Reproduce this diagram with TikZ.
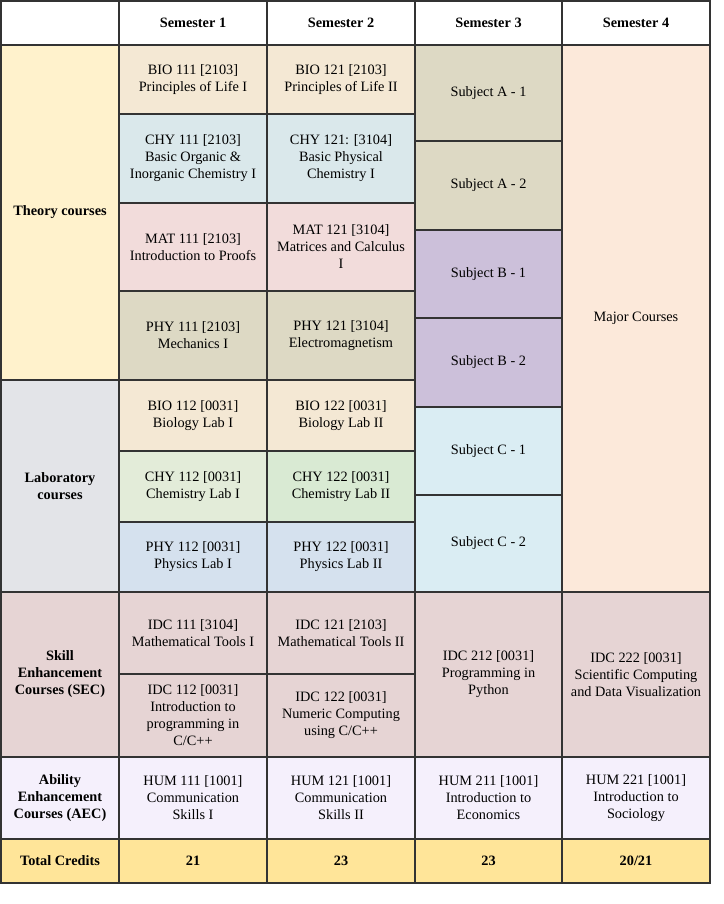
\documentclass[tikz,border=0pt]{standalone}
\usepackage{fontspec}
\setmainfont{Liberation Serif}
\definecolor{linec}{HTML}{333333}
\definecolor{theoryc}{HTML}{FFF2CC}
\definecolor{labc}{HTML}{E3E4E8}
\definecolor{bioc}{HTML}{F4E8D4}
\definecolor{chyc}{HTML}{DAE8EB}
\definecolor{matc}{HTML}{F2DCDB}
\definecolor{phyc}{HTML}{DDD9C4}
\definecolor{chylabAc}{HTML}{E3ECD9}
\definecolor{chylabBc}{HTML}{D9EAD3}
\definecolor{phylabc}{HTML}{D5E1EE}
\definecolor{subBc}{HTML}{CCC0DA}
\definecolor{subCc}{HTML}{DAEDF3}
\definecolor{majorc}{HTML}{FCE9DA}
\definecolor{secc}{HTML}{E6D4D4}
\definecolor{aecc}{HTML}{F5F0FC}
\definecolor{totalc}{HTML}{FFE599}
\tikzset{
  cellsty/.style={draw=linec, line width=2pt, inner sep=0pt, outer sep=0pt,
    align=center, anchor=north west, font=\fontsize{14.3}{17}\selectfont},
  headsty/.style={cellsty, font=\fontsize{14.3}{17}\selectfont\bfseries}
}
\newcommand{\cellbox}[8][cellsty]{%
  \node[#1, fill=#7, minimum width={(#5-#3)*1pt}, minimum height={(#6-#4)*1pt}]
    (#2) at (#3,#4) {#8};}
\begin{document}
\begin{tikzpicture}[x=1pt,y=-1pt]
\useasboundingbox (0,0) rectangle (723,904);
% header row
\cellbox[headsty]{h0}{1}{1}{119}{45}{white}{}
\cellbox[headsty]{h1}{119}{1}{267}{45}{white}{Semester 1}
\cellbox[headsty]{h2}{267}{1}{415}{45}{white}{Semester 2}
\cellbox[headsty]{h3}{415}{1}{562}{45}{white}{Semester 3}
\cellbox[headsty]{h4}{562}{1}{710}{45}{white}{Semester 4}
% row labels
\cellbox[headsty]{theory}{1}{45}{119}{380}{theoryc}{Theory courses}
\cellbox[headsty]{lab}{1}{380}{119}{592}{labc}{Laboratory\\courses}
\cellbox[headsty]{sec}{1}{592}{119}{757}{secc}{Skill\\Enhancement\\Courses (SEC)}
\cellbox[headsty]{aec}{1}{757}{119}{839}{aecc}{Ability\\Enhancement\\Courses (AEC)}
\cellbox[headsty]{total}{1}{839}{119}{883}{totalc}{Total Credits}
% semester 1
\cellbox{bio111}{119}{45}{267}{114}{bioc}{BIO 111 [2103]\\Principles of Life I}
\cellbox{chy111}{119}{114}{267}{203}{chyc}{CHY 111 [2103]\\Basic Organic \&\\Inorganic Chemistry I}
\cellbox{mat111}{119}{203}{267}{291}{matc}{MAT 111 [2103]\\Introduction to Proofs}
\cellbox{phy111}{119}{291}{267}{380}{phyc}{PHY 111 [2103]\\Mechanics I}
\cellbox{bio112}{119}{380}{267}{451}{bioc}{BIO 112 [0031]\\Biology Lab I}
\cellbox{chy112}{119}{451}{267}{522}{chylabAc}{CHY 112 [0031]\\Chemistry Lab I}
\cellbox{phy112}{119}{522}{267}{592}{phylabc}{PHY 112 [0031]\\Physics Lab I}
\cellbox{idc111}{119}{592}{267}{674}{secc}{IDC 111 [3104]\\Mathematical Tools I}
\cellbox{idc112}{119}{674}{267}{757}{secc}{IDC 112 [0031]\\Introduction to\\programming in\\C/C++}
\cellbox{hum111}{119}{757}{267}{839}{aecc}{HUM 111 [1001]\\Communication\\Skills I}
\cellbox[headsty]{t1}{119}{839}{267}{883}{totalc}{21}
% semester 2
\cellbox{bio121}{267}{45}{415}{114}{bioc}{BIO 121 [2103]\\Principles of Life II}
\cellbox{chy121}{267}{114}{415}{203}{chyc}{CHY 121: [3104]\\Basic Physical\\Chemistry I}
\cellbox{mat121}{267}{203}{415}{291}{matc}{MAT 121 [3104]\\Matrices and Calculus\\I}
\cellbox{phy121}{267}{291}{415}{380}{phyc}{PHY 121 [3104]\\Electromagnetism}
\cellbox{bio122}{267}{380}{415}{451}{bioc}{BIO 122 [0031]\\Biology Lab II}
\cellbox{chy122}{267}{451}{415}{522}{chylabBc}{CHY 122 [0031]\\Chemistry Lab II}
\cellbox{phy122}{267}{522}{415}{592}{phylabc}{PHY 122 [0031]\\Physics Lab II}
\cellbox{idc121}{267}{592}{415}{674}{secc}{IDC 121 [2103]\\Mathematical Tools II}
\cellbox{idc122}{267}{674}{415}{757}{secc}{IDC 122 [0031]\\Numeric Computing\\using C/C++}
\cellbox{hum121}{267}{757}{415}{839}{aecc}{HUM 121 [1001]\\Communication\\Skills II}
\cellbox[headsty]{t2}{267}{839}{415}{883}{totalc}{23}
% semester 3
\cellbox{subA1}{415}{45}{562}{141}{phyc}{Subject A - 1}
\cellbox{subA2}{415}{141}{562}{230}{phyc}{Subject A - 2}
\cellbox{subB1}{415}{230}{562}{318}{subBc}{Subject B - 1}
\cellbox{subB2}{415}{318}{562}{407}{subBc}{Subject B - 2}
\cellbox{subC1}{415}{407}{562}{495}{subCc}{Subject C - 1}
\cellbox{subC2}{415}{495}{562}{592}{subCc}{Subject C - 2}
\cellbox{idc212}{415}{592}{562}{757}{secc}{IDC 212 [0031]\\Programming in\\Python}
\cellbox{hum211}{415}{757}{562}{839}{aecc}{HUM 211 [1001]\\Introduction to\\Economics}
\cellbox[headsty]{t3}{415}{839}{562}{883}{totalc}{23}
% semester 4
\cellbox{major}{562}{45}{710}{592}{majorc}{Major Courses}
\cellbox{idc222}{562}{592}{710}{757}{secc}{IDC 222 [0031]\\Scientific Computing\\and Data Visualization}
\cellbox{hum221}{562}{757}{710}{839}{aecc}{HUM 221 [1001]\\Introduction to\\Sociology}
\cellbox[headsty]{t4}{562}{839}{710}{883}{totalc}{20/21}
\end{tikzpicture}
\end{document}
